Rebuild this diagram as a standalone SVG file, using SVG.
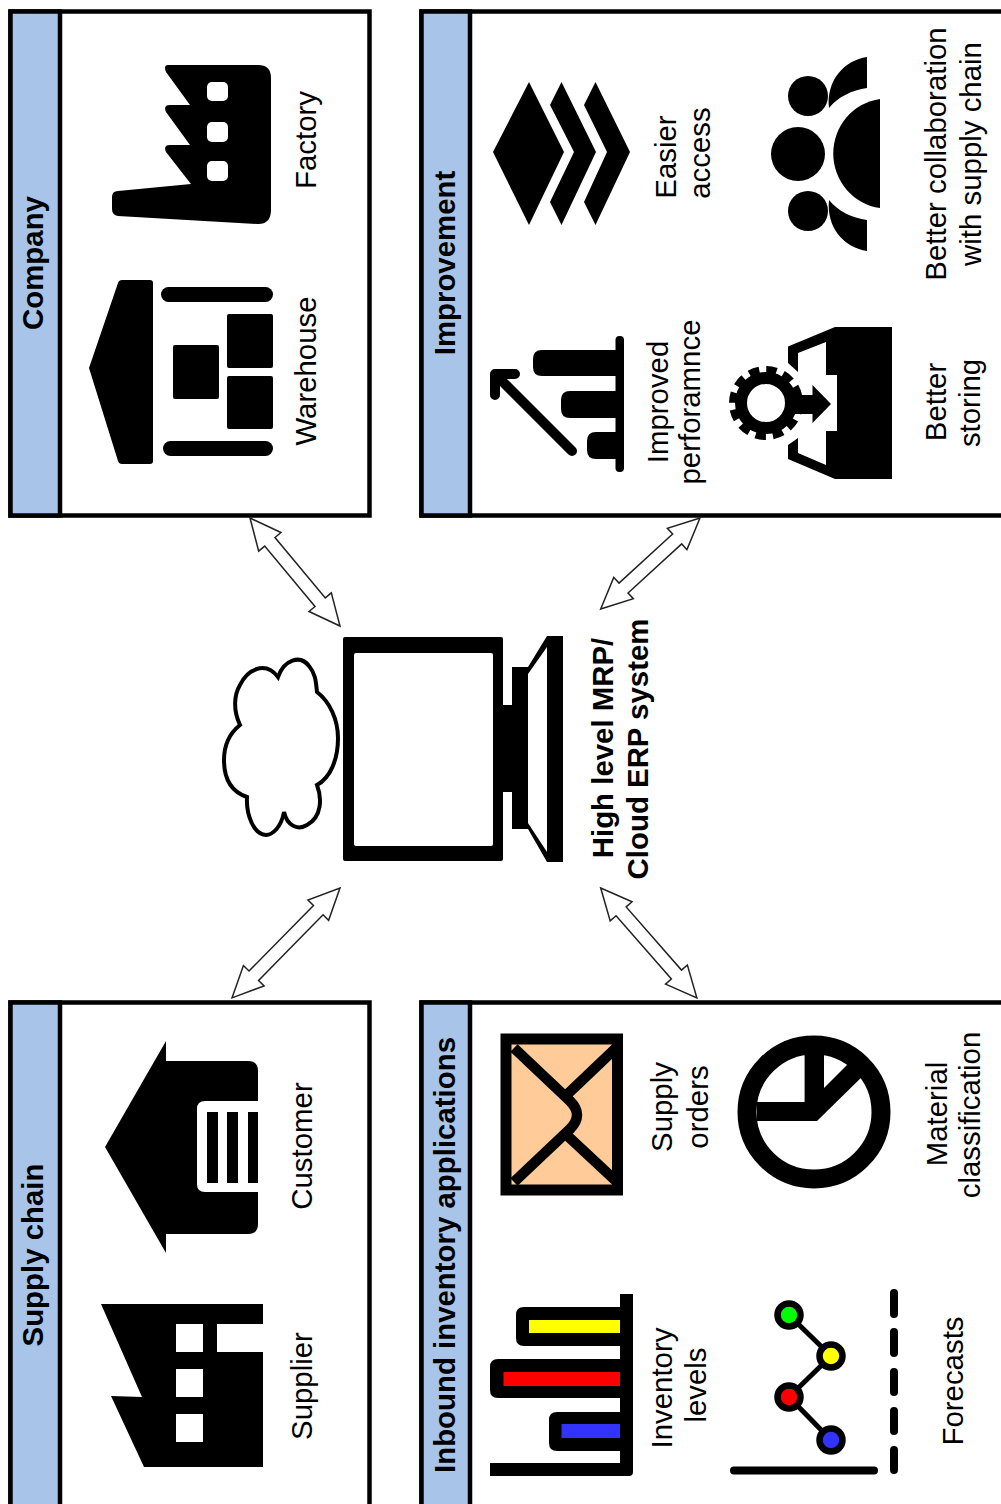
<svg xmlns="http://www.w3.org/2000/svg" width="1001" height="1504" viewBox="0 0 1001 1504">
<style>
text{font-family:"Liberation Sans",Arial,sans-serif;font-size:29.4px;fill:#000;text-anchor:middle}
.h{font-weight:bold}
.panel{fill:#fff;stroke:#000;stroke-width:4.5}
.head{fill:#a9c4e9;stroke:#000;stroke-width:4.5}
.arrow{fill:#fff;stroke:#222;stroke-width:1.5;stroke-linejoin:miter}
.k{fill:#000}
.w{fill:#fff}
</style>
<rect width="1001" height="1504" fill="#fff"/>
<g id="company">
<rect class="panel" x="10.5" y="11.5" width="359" height="504"/>
<rect class="head" x="10.5" y="11.5" width="49.500" height="504"/>
<text class="h" transform="translate(43 263) rotate(-90)">Company</text>
<path class="k" d="M165 68Q165 65 168 65H258Q271 65 271 78V210Q271 224 258 224L118 216Q112 215 112 209V197Q112 191 118 191L191 184L166 152Q163 145 170 145H190L166 112Q163 105 170 105H190L166 72Q165 70 165 68Z"/>
<rect class="w" x="207" y="82" width="21" height="19" rx="5"/><rect class="w" x="207" y="122" width="21" height="20" rx="5"/><rect class="w" x="207" y="161" width="21" height="20" rx="5"/>
<text transform="translate(316 140) rotate(-90)">Factory</text>
<path class="k" d="M89 368L118 283Q119 280 122 280H150Q153 280 153 283V461Q153 464 150 464H122Q119 464 118 461Z"/>
<rect class="k" x="161" y="287" width="112" height="15" rx="7.5"/><rect class="k" x="163" y="441" width="110" height="15" rx="7.5"/>
<rect class="k" x="173" y="345" width="46" height="54" rx="2"/><rect class="k" x="227" y="314" width="46" height="54" rx="2"/><rect class="k" x="227" y="376" width="46" height="53" rx="2"/>
<text transform="translate(316 371) rotate(-90)">Warehouse</text>
</g>
<g id="improvement">
<rect class="panel" x="421.5" y="11.5" width="590" height="504"/>
<rect class="head" x="421.5" y="11.5" width="48.500" height="504"/>
<text class="h" transform="translate(455 263) rotate(-90)">Improvement</text>
<path class="k" d="M493 152L529 82L564 152L529 225Z"/>
<path class="k" d="M561.500 82L596 152L561.500 225L550 202L574 152L550 105Z"/>
<path class="k" d="M595.500 82L630 152L595.500 225L584 202L607 152L584 105Z"/>
<text transform="translate(676 157) rotate(-90)">Easier</text>
<text transform="translate(710 153) rotate(-90)">access</text>
<circle class="k" cx="798" cy="154" r="27"/><circle class="k" cx="808" cy="96" r="20"/><circle class="k" cx="808" cy="211" r="20"/>
<path class="k" d="M880 99A54 55 0 0 0 880 208Z"/>
<path class="k" d="M867 57C845 60 826 80 829 108C838 97 852 90 867 88Z"/>
<path class="k" d="M867 251C845 248 826 228 829 200C838 211 852 218 867 220Z"/>
<text transform="translate(946 154) rotate(-90)">Better collaboration</text>
<text transform="translate(981 154) rotate(-90)">with supply chain</text>
<rect class="k" x="615.500" y="336" width="8.500" height="136" rx="4"/>
<path class="k" d="M616 350H542Q533 350 533 359V367Q533 376 542 376H616Z"/>
<path class="k" d="M616 391H570Q561 391 561 400V409Q561 418 570 418H616Z"/>
<path class="k" d="M616 432H596Q587 432 587 441V450Q587 459 596 459H616Z"/>
<path d="M572 451L495 374H515M495 374V395" fill="none" stroke="#000" stroke-width="10" stroke-linecap="round" stroke-linejoin="round"/>
<text transform="translate(668 402) rotate(-90)">Improved</text>
<text transform="translate(700 402) rotate(-90)">perforamnce</text>
<path class="k" d="M892 327V479H835L788 459V445L798 438V453L826 465V431H837V375H826V342L798 353V372L788 363V346.500L835 327Z"/>
<circle cx="766" cy="403" r="33.500" fill="none" stroke="#000" stroke-width="7" stroke-dasharray="10.500 7.040"/>
<circle cx="766" cy="403" r="25" fill="none" stroke="#000" stroke-width="12"/>
<path class="k" d="M795 395H812.500V385L831 404L812.500 423V414H795Z"/>
<text transform="translate(946 402) rotate(-90)">Better</text>
<text transform="translate(980 403) rotate(-90)">storing</text>
</g>
<g id="system">
<path class="k" d="M345 637H501Q503 637 503 639V705H512V667H528L547 636H563V862H547L528 829H512V792H503V859Q503 861 501 861H345Q343 861 343 859V639Q343 637 345 637Z"/>
<rect class="w" x="354" y="653" width="139" height="193" rx="2"/>
<path class="w" d="M528 674L547 647V852L528 823Z"/>
<path fill="#fff" stroke="#000" stroke-width="4" d="M278 677C284 660 300 654 309 666C316 674 316 684 317 692C330 702 338 720 338 738C338 760 330 778 317 785C322 798 322 817 307 825C297 831 287 825 284 812C281 828 272 835 266 835C254 835 246 815 247 797C232 792 224 780 224 760C224 745 230 733 240 725C233 710 234 695 240 685C247 670 265 660 278 677Z"/>
<text class="h" transform="translate(613 748) rotate(-90)">High level MRP/</text>
<text class="h" transform="translate(648 749) rotate(-90)">Cloud ERP system</text>
</g>
<g id="supply-chain">
<rect class="panel" x="10.500" y="1002.500" width="359" height="520"/>
<rect class="head" x="10.500" y="1002.500" width="49.500" height="520"/>
<text class="h" transform="translate(43 1255) rotate(-90)">Supply chain</text>
<path class="k" d="M105 1147L166 1041V1061H248Q258 1061 258 1071V1101H205Q197 1101 197 1109V1184Q197 1192 205 1192H258V1224Q258 1234 248 1234H166V1253Z"/>
<rect class="k" x="207" y="1112" width="11" height="71"/><rect class="k" x="227" y="1112" width="11" height="71"/><rect class="k" x="248" y="1112" width="10" height="71"/>
<text transform="translate(312 1146) rotate(-90)">Customer</text>
<path class="k" d="M101 1304H263V1324H217V1352H263V1467H144L111 1396L142 1397Z"/>
<rect class="w" x="176" y="1324" width="27" height="28"/><rect class="w" x="176" y="1369" width="27" height="28"/><rect class="w" x="176" y="1414" width="27" height="28"/>
<text transform="translate(312 1386) rotate(-90)">Supplier</text>
</g>
<g id="inbound">
<rect class="panel" x="421.500" y="1002.500" width="590" height="520"/>
<rect class="head" x="421.500" y="1002.500" width="48.500" height="520"/>
<text class="h" transform="translate(455 1255) rotate(-90)">Inbound inventory applications</text>
<rect x="506" y="1039" width="111.500" height="151" fill="#ffcc99" stroke="#000" stroke-width="11"/>
<path d="M514 1048L570 1101Q584 1115 570 1129L514 1182M617 1047L564.500 1097M617 1182L564.500 1133" fill="none" stroke="#000" stroke-width="10.500"/>
<text transform="translate(672 1107) rotate(-90)">Supply</text>
<text transform="translate(708 1107) rotate(-90)">orders</text>
<circle cx="814" cy="1112" r="67" fill="none" stroke="#000" stroke-width="19"/>
<path class="k" d="M757 1102H804.600V1050H824V1088L856 1056L870 1069L817 1121H757Z"/>
<text transform="translate(947 1114) rotate(-90)">Material</text>
<text transform="translate(980 1115) rotate(-90)">classification</text>
<path class="k" d="M620 1294H633V1472Q633 1476 629 1476H490V1463H620Z"/>
<path class="k" d="M620 1307H524Q516 1307 516 1315V1338Q516 1346 524 1346H620Z"/>
<path class="k" d="M620 1359H498Q490 1359 490 1367V1390Q490 1398 498 1398H620Z"/>
<path class="k" d="M620 1412H557Q549 1412 549 1420V1443Q549 1451 557 1451H620Z"/>
<rect x="529" y="1320" width="91" height="13" fill="#ff0"/><rect x="503.500" y="1372" width="116.500" height="14" fill="#f00"/><rect x="561.500" y="1424" width="58.500" height="14" fill="#33f"/>
<text transform="translate(672 1388) rotate(-90)">Inventory</text>
<text transform="translate(706 1385) rotate(-90)">levels</text>
<path d="M734 1470.500H874" stroke="#000" stroke-width="8" stroke-linecap="round" fill="none"/>
<path d="M894 1293V1314M894 1332V1353M894 1372V1392M894 1411V1431M894 1450V1470" stroke="#000" stroke-width="8" stroke-linecap="round" fill="none"/>
<path d="M789 1315L831 1356L789 1397L831 1440" stroke="#000" stroke-width="5" fill="none"/>
<g stroke="#000" stroke-width="6.500"><circle cx="789" cy="1315" r="11.500" fill="#0f0"/><circle cx="831" cy="1356" r="11.500" fill="#ff0"/><circle cx="789" cy="1397" r="11.500" fill="#f00"/><circle cx="831" cy="1440" r="11.500" fill="#33f"/></g>
<text transform="translate(963 1381) rotate(-90)">Forecasts</text>
</g>
<g id="connectors">
<polygon class="arrow" transform="translate(250 518) rotate(50.200)" points="0,0 31,-14.500 31,-6.700 109.600,-6.700 109.600,-14.500 140.600,0 109.600,14.500 109.600,6.700 31,6.700 31,14.500"/>
<polygon class="arrow" transform="translate(700 518) rotate(137.500)" points="0,0 31,-14.500 31,-6.700 103.700,-6.700 103.700,-14.500 134.700,0 103.700,14.500 103.700,6.700 31,6.700 31,14.500"/>
<polygon class="arrow" transform="translate(340 888) rotate(134.500)" points="0,0 31,-14.500 31,-6.700 123,-6.700 123,-14.500 154,0 123,14.500 123,6.700 31,6.700 31,14.500"/>
<polygon class="arrow" transform="translate(600.700 888) rotate(48.800)" points="0,0 31,-14.500 31,-6.700 115,-6.700 115,-14.500 146,0 115,14.500 115,6.700 31,6.700 31,14.500"/>
</g>
</svg>
